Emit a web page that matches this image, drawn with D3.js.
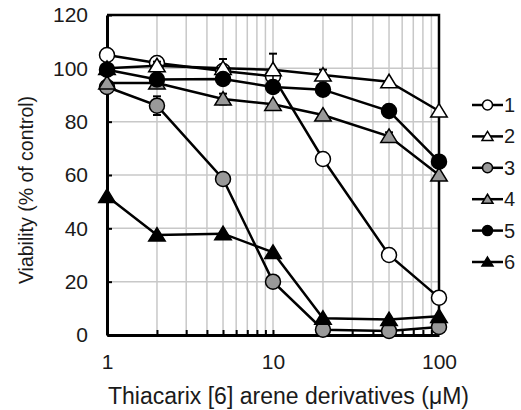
<!DOCTYPE html>
<html>
<head>
<meta charset="utf-8">
<script src="https://cdn.jsdelivr.net/npm/d3@7"></script>
<style>
  body { margin: 0; background: #fff; }
  svg { font-family: "Liberation Sans", Arial, sans-serif; }
</style>
</head>
<body>
<svg id="chart"></svg>
<script>
// concentrations (uM)
const conc = [1, 2, 5, 10, 20, 50, 100]
const yTicks = [0, 20, 40, 60, 80, 100, 120]
const xTickLabels = [1, 10, 100]
const seriesNames = ['1', '2', '3', '4', '5', '6']

// viability values for each derivative
const s1 = [105, 102, 99, 97, 66, 30, 14]
const s2 = [100, 101, 100, 99.5, 97.5, 95, 84]
const s3 = [93, 86, 58.5, 20, 2, 1.5, 3]
const s4 = [94.5, 94.5, 88.5, 86.5, 82.5, 74.5, 60]
const s5 = [99.5, 95.8, 96, 93, 92, 84, 65]
const s6 = [52, 37.5, 38, 31, 6.3, 5.8, 7]
// error bar sizes (sd)
const e1 = [0, 0, 0, 0, 0, 0, 0]
const e2 = [0, 1.5, 3.5, 6, 2, 0, 0]
const e3 = [0, 3.5, 0, 0, 0, 0, 0]
const e4 = [0, 0, 2, 0, 0, 1.5, 0]
const e5 = [0, 0, 0, 0, 0, 0, 0]
const e6 = [0, 0, 0, 0, 0, 0, 0]

const values = [s1, s2, s3, s4, s5, s6]
const errors = [e1, e2, e3, e4, e5, e6]
const shapes = ['circle', 'triangle', 'circle', 'triangle', 'circle', 'triangle']
const fills = ['#ffffff', '#ffffff', '#999999', '#999999', '#000000', '#000000']

let width = 521
let height = 410
let pLeft = 107, pRight = 439, pTop = 15, pBottom = 335

let svg = d3.select('#chart')
    .attr('width', width)
    .attr('height', height)

let xScale = d3.scaleLog().domain([1, 100]).range([pLeft, pRight])
let yScale = d3.scaleLinear().domain([0, 120]).range([pBottom, pTop])

// all log ticks between 1 and 100
let logTicks = xScale.ticks()

// grid
svg.append('g')
    .selectAll('line')
    .data(logTicks.filter(d => d > 1 && d < 100))
    .enter()
    .append('line')
    .attr('x1', d => xScale(d)).attr('x2', d => xScale(d))
    .attr('y1', pTop).attr('y2', pBottom)
    .attr('stroke', '#c8c8c8').attr('stroke-width', 1.5)

svg.append('g')
    .selectAll('line')
    .data(yTicks.filter(d => d > 0 && d < 120))
    .enter()
    .append('line')
    .attr('x1', pLeft).attr('x2', pRight)
    .attr('y1', d => yScale(d)).attr('y2', d => yScale(d))
    .attr('stroke', '#c8c8c8').attr('stroke-width', 1.5)

// frame top and right
svg.append('path')
    .attr('d', `M${pLeft},${pTop}H${pRight}V${pBottom}`)
    .attr('fill', 'none')
    .attr('stroke', '#000')
    .attr('stroke-width', 2.5)

// axes
let xAxis = d3.axisBottom(xScale)
    .tickValues(logTicks)
    .tickSizeInner(-5)
    .tickSizeOuter(0)
    .tickFormat(d => xTickLabels.includes(d) ? d : '')
let xg = svg.append('g')
    .attr('transform', 'translate(0,' + pBottom + ')')
    .call(xAxis)
xg.select('.domain').attr('stroke-width', 3)
xg.selectAll('.tick line').attr('stroke-width', 2)
xg.selectAll('text')
    .attr('y', 19)
    .attr('dy', '0.71em')
    .style('font-size', '21px')
    .style('font-family', '"Liberation Sans", Arial, sans-serif')
    .attr('fill', '#1a1a1a')

let yAxis = d3.axisLeft(yScale)
    .tickValues(yTicks)
    .tickSizeInner(-5)
    .tickSizeOuter(0)
let yg = svg.append('g')
    .attr('transform', 'translate(' + pLeft + ',0)')
    .call(yAxis)
yg.select('.domain').attr('stroke-width', 3)
yg.selectAll('.tick line').attr('stroke-width', 2)
yg.selectAll('text')
    .attr('x', -19)
    .style('font-size', '21px')
    .style('font-family', '"Liberation Sans", Arial, sans-serif')
    .attr('fill', '#1a1a1a')

// axis titles
svg.append('text')
    .attr('x', 288.5)
    .attr('y', 404)
    .attr('text-anchor', 'middle')
    .style('font-size', '23px')
    .attr('fill', '#1a1a1a')
    .text('Thiacarix [6] arene derivatives (μM)')

svg.append('text')
    .attr('transform', 'translate(33,190) rotate(-90)')
    .attr('text-anchor', 'middle')
    .style('font-size', '19.5px')
    .attr('fill', '#1a1a1a')
    .text('Viability (% of control)')

let line = d3.line()
    .x((d, i) => xScale(conc[i]))
    .y(d => yScale(d))

function drawMarker(g, shape, fill, cx, cy, size) {
    if (shape === 'circle') {
        g.append('circle')
            .attr('cx', cx).attr('cy', cy).attr('r', size)
            .attr('fill', fill).attr('stroke', '#000').attr('stroke-width', 1.5)
    } else {
        let h = size * 1.8
        let w = size * 1.1
        g.append('path')
            .attr('d', `M${cx},${cy - h * 0.55}L${cx + w},${cy + h * 0.45}L${cx - w},${cy + h * 0.45}Z`)
            .attr('fill', fill).attr('stroke', '#000').attr('stroke-width', 1.5)
    }
}

values.forEach((vals, s) => {
    let g = svg.append('g')
    // error bars
    errors[s].forEach((e, i) => {
        if (!e) return
        let x = xScale(conc[i])
        g.append('line')
            .attr('x1', x).attr('x2', x)
            .attr('y1', yScale(vals[i] - e)).attr('y2', yScale(vals[i] + e))
            .attr('stroke', '#000').attr('stroke-width', 1.5)
        ;[vals[i] - e, vals[i] + e].forEach(v => {
            g.append('line')
                .attr('x1', x - 4).attr('x2', x + 4)
                .attr('y1', yScale(v)).attr('y2', yScale(v))
                .attr('stroke', '#000').attr('stroke-width', 2)
        })
    })
    g.append('path')
        .attr('d', line(vals))
        .attr('fill', 'none')
        .attr('stroke', '#000')
        .attr('stroke-width', 2.5)
    vals.forEach((v, i) => {
        drawMarker(g, shapes[s], fills[s], xScale(conc[i]), yScale(v), 7.5)
    })
})

// legend
let legend = svg.append('g')
seriesNames.forEach((name, i) => {
    let y = 105 + i * 31.4
    legend.append('line')
        .attr('x1', 472).attr('x2', 503)
        .attr('y1', y).attr('y2', y)
        .attr('stroke', '#000').attr('stroke-width', 2.5)
    drawMarker(legend, shapes[i], fills[i], 487.5, y, 5)
    legend.append('text')
        .attr('x', 504)
        .attr('y', y)
        .attr('dy', '0.35em')
        .style('font-size', '20px')
        .attr('fill', '#1a1a1a')
        .text(name)
})
</script>
</body>
</html>
